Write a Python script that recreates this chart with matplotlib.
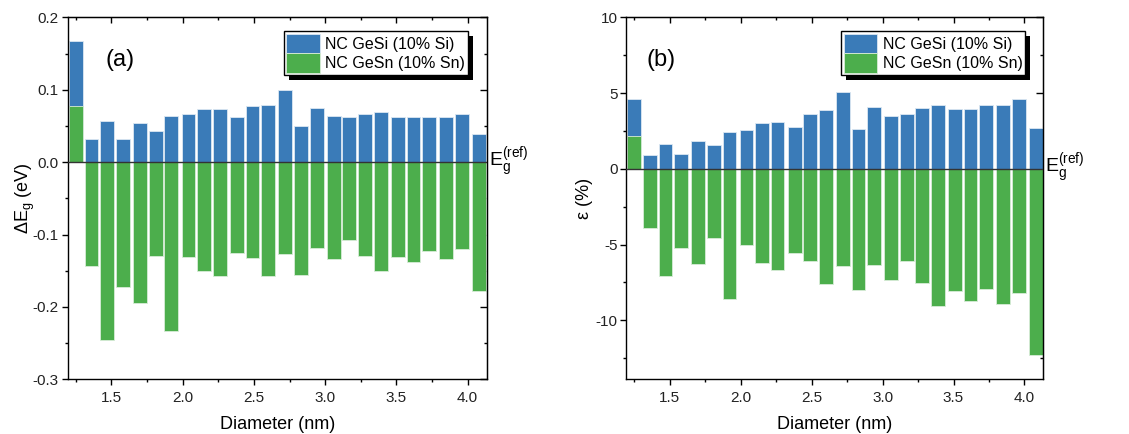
import matplotlib
matplotlib.use("Agg")
import matplotlib.pyplot as plt
from matplotlib.ticker import MultipleLocator
from matplotlib.patches import Rectangle
from matplotlib.transforms import IdentityTransform

plt.rcParams['font.family'] = ['Liberation Sans', 'DejaVu Sans']
plt.rcParams['mathtext.fontset'] = 'custom'
plt.rcParams['mathtext.rm'] = 'Liberation Sans'

# nanocrystal diameters (nm)
diam = [1.25, 1.36, 1.47, 1.58, 1.70, 1.81, 1.92, 2.04, 2.15, 2.26, 2.38, 2.49, 2.60,
        2.72, 2.83, 2.94, 3.06, 3.17, 3.28, 3.39, 3.51, 3.62, 3.73, 3.85, 3.96, 4.08]

# (a) band gap shift (eV)
dEg_gesi = [0.168, 0.032, 0.057, 0.032, 0.054, 0.043, 0.064, 0.066, 0.073, 0.073, 0.062, 0.077, 0.079,
            0.100, 0.050, 0.075, 0.064, 0.063, 0.067, 0.069, 0.062, 0.062, 0.063, 0.063, 0.067, 0.039]
dEg_gesn = [0.077, -0.143, -0.246, -0.172, -0.194, -0.129, -0.233, -0.131, -0.151, -0.157, -0.126, -0.133, -0.157,
            -0.127, -0.156, -0.118, -0.134, -0.107, -0.129, -0.151, -0.131, -0.138, -0.123, -0.134, -0.120, -0.178]

# (b) relative change (%)
eps_gesi = [4.60, 0.93, 1.67, 0.99, 1.81, 1.54, 2.42, 2.56, 3.04, 3.08, 2.78, 3.63, 3.85,
            5.07, 2.62, 4.05, 3.50, 3.63, 3.99, 4.19, 3.92, 3.92, 4.19, 4.19, 4.60, 2.69]
eps_gesn = [2.14, -3.94, -7.11, -5.24, -6.26, -4.56, -8.57, -5.04, -6.19, -6.65, -5.57, -6.12, -7.62,
            -6.39, -8.02, -6.32, -7.36, -6.06, -7.56, -9.03, -8.08, -8.70, -7.95, -8.90, -8.22, -12.31]

blue = '#3a7bb8'
green = '#4cae4c'
tickcol = '#222222'

fig = plt.figure(figsize=(11.29, 4.34), dpi=100)
ax1 = fig.add_axes([0.060, 0.126, 0.371, 0.834])
ax2 = fig.add_axes([0.5547, 0.126, 0.3694, 0.834])

panels = [
    (ax1, dEg_gesi, dEg_gesn, (-0.3, 0.2), 0.1, 0.05, 'ΔE$_\\mathregular{g}$ (eV)', '(a)', 0.125, '%.1f', -3),
    (ax2, eps_gesi, eps_gesn, (-13.9, 10), 5, 2.5, 'ε (%)', '(b)', 0.083, '%g', 2),
]

legends = []
for ax, si, sn, ylim, ymaj, ymin, ylab, tag, tagx, fmt, ypad in panels:
    b1 = ax.bar(diam, si, width=0.097, color=blue, edgecolor='#dce8f2', linewidth=0.6,
                label='NC GeSi (10% Si)', zorder=2)
    b2 = ax.bar(diam, sn, width=0.097, color=green, edgecolor='#d8ecd8', linewidth=0.6,
                label='NC GeSn (10% Sn)', zorder=2)
    ax.axhline(0, color='#333333', lw=1.0, zorder=3)
    ax.set_xlim(1.193, 4.133)
    ax.set_ylim(*ylim)
    ax.xaxis.set_major_locator(MultipleLocator(0.5))
    ax.xaxis.set_minor_locator(MultipleLocator(0.25))
    ax.yaxis.set_major_locator(MultipleLocator(ymaj))
    ax.yaxis.set_minor_locator(MultipleLocator(ymin))
    ax.yaxis.set_major_formatter(plt.FormatStrFormatter(fmt))
    ax.xaxis.set_major_formatter(plt.FormatStrFormatter('%.1f'))
    ax.tick_params(which='major', direction='out', length=4.3, width=1.0, labelsize=11,
                   labelcolor=tickcol, pad=2)
    ax.tick_params(which='minor', direction='out', length=2.2, width=1.0)
    ax.tick_params(axis='x', which='major', pad=4)
    for s in ax.spines.values():
        s.set_linewidth(1.0)

    top = ax.secondary_xaxis('top')
    top.xaxis.set_major_locator(MultipleLocator(0.5))
    top.xaxis.set_minor_locator(MultipleLocator(0.25))
    top.tick_params(which='major', direction='in', length=4.0, width=1.0, labeltop=False)
    top.tick_params(which='minor', direction='in', length=2.2, width=1.0)
    right = ax.secondary_yaxis('right')
    right.yaxis.set_major_locator(MultipleLocator(ymaj))
    right.yaxis.set_minor_locator(MultipleLocator(ymin))
    right.tick_params(which='major', direction='in', length=5.0, width=1.0, labelright=False)
    right.tick_params(which='minor', direction='in', length=2.4, width=1.0)

    ax.set_xlabel('Diameter (nm)', fontsize=13, labelpad=8)
    ax.set_ylabel(ylab, fontsize=13, labelpad=ypad)
    ax.text(tagx, 0.882, tag, transform=ax.transAxes, fontsize=17, ha='center', va='center')
    ax.text(1.005, 0, 'E$_\\mathregular{g}^\\mathregular{(ref)}$', transform=ax.get_yaxis_transform(),
            fontsize=14, ha='left', va='center')

    leg = ax.legend(handles=[b1, b2], loc='upper left', bbox_to_anchor=(0.516, 0.961),
                    fontsize=11.5, frameon=True, fancybox=False, framealpha=1, edgecolor='black',
                    handlelength=2.1, handleheight=1.5, labelspacing=0, handletextpad=0.35,
                    borderpad=0.15, borderaxespad=0)
    leg.get_frame().set_linewidth(1.0)
    leg.set_zorder(6)
    legends.append((ax, leg))

# offset black shadow behind each legend box
fig.canvas.draw()
renderer = fig.canvas.get_renderer()
for ax, leg in legends:
    bb = leg.get_frame().get_window_extent(renderer)
    sh = Rectangle((bb.x0 + 5, bb.y0 - 5), bb.width, bb.height, transform=IdentityTransform(),
                   facecolor='black', edgecolor='none', zorder=5.5)
    ax.add_artist(sh)

fig.savefig('out.png', dpi=100)
